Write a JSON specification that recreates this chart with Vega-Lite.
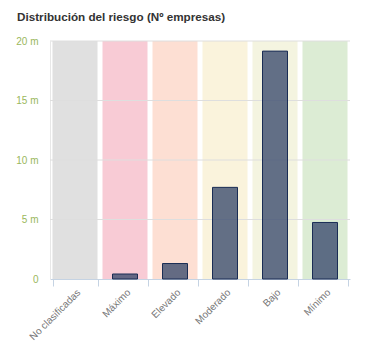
{
  "$schema": "https://vega.github.io/schema/vega-lite/v6.json",
  "autosize": {"type": "none"},
  "padding": {"left": 50, "top": 41, "right": 17, "bottom": 79},
  "width": 300,
  "height": 238,
  "background": "white",
  "title": {
    "text": "Distribución del riesgo (Nº empresas)",
    "anchor": "start",
    "frame": "group",
    "dx": -33,
    "offset": 3,
    "baseline": "alphabetic",
    "font": "Liberation Sans",
    "fontSize": 11.7,
    "fontWeight": "bold",
    "color": "#333333"
  },
  "datasets": {
    "riesgo": [
      {"cat": "No clasificadas", "n": 0},
      {"cat": "Máximo", "n": 0.42},
      {"cat": "Elevado", "n": 1.3},
      {"cat": "Moderado", "n": 7.7},
      {"cat": "Bajo", "n": 19.15},
      {"cat": "Mínimo", "n": 4.75}
    ],
    "ticks": [{"v": 5}, {"v": 10}, {"v": 15}, {"v": 20}]
  },
  "config": {
    "view": {"stroke": null},
    "axis": {"labelFont": "Liberation Sans", "labelFontSize": 10}
  },
  "layer": [
    {
      "data": {"name": "riesgo"},
      "mark": {"type": "bar"},
      "encoding": {
        "x": {
          "field": "cat",
          "type": "nominal",
          "sort": null,
          "scale": {"paddingInner": 0.1, "paddingOuter": 0.05},
          "axis": {
            "title": null,
            "labelAngle": -45,
            "labelColor": "#777777",
            "domainColor": "#c5d3e3",
            "tickColor": "#c5d3e3",
            "tickSize": 7,
            "tickBand": "extent",
            "labelPadding": 1,
            "grid": false
          }
        },
        "y": {
          "datum": 20,
          "type": "quantitative",
          "scale": {"domain": [0, 20], "nice": false},
          "axis": {
            "title": null,
            "values": [0, 5, 10, 15, 20],
            "labelExpr": "datum.value === 0 ? '0' : datum.value + ' m'",
            "labelColor": "#9ab75c",
            "ticks": false,
            "labelPadding": 12,
            "grid": false,
            "domainColor": "#e8e8e8"
          }
        },
        "color": {
          "field": "cat",
          "type": "nominal",
          "sort": null,
          "legend": null,
          "scale": {
            "domain": ["No clasificadas", "Máximo", "Elevado", "Moderado", "Bajo", "Mínimo"],
            "range": ["#e0e0e0", "#f8cbd5", "#fddfd3", "#faf3dc", "#f4f4e0", "#dcecd4"]
          }
        }
      }
    },
    {
      "data": {"name": "ticks"},
      "mark": {"type": "rule", "color": "#dedede", "strokeWidth": 1},
      "encoding": {
        "y": {"field": "v", "type": "quantitative"}
      }
    },
    {
      "data": {"name": "riesgo"},
      "transform": [{"filter": "datum.n > 0"}],
      "mark": {"type": "bar", "width": 25, "fill": "#3d4e6f", "fillOpacity": 0.8, "stroke": "#1a2d55", "strokeWidth": 1},
      "encoding": {
        "x": {"field": "cat", "type": "nominal", "sort": null},
        "y": {"field": "n", "type": "quantitative"}
      }
    }
  ]
}
